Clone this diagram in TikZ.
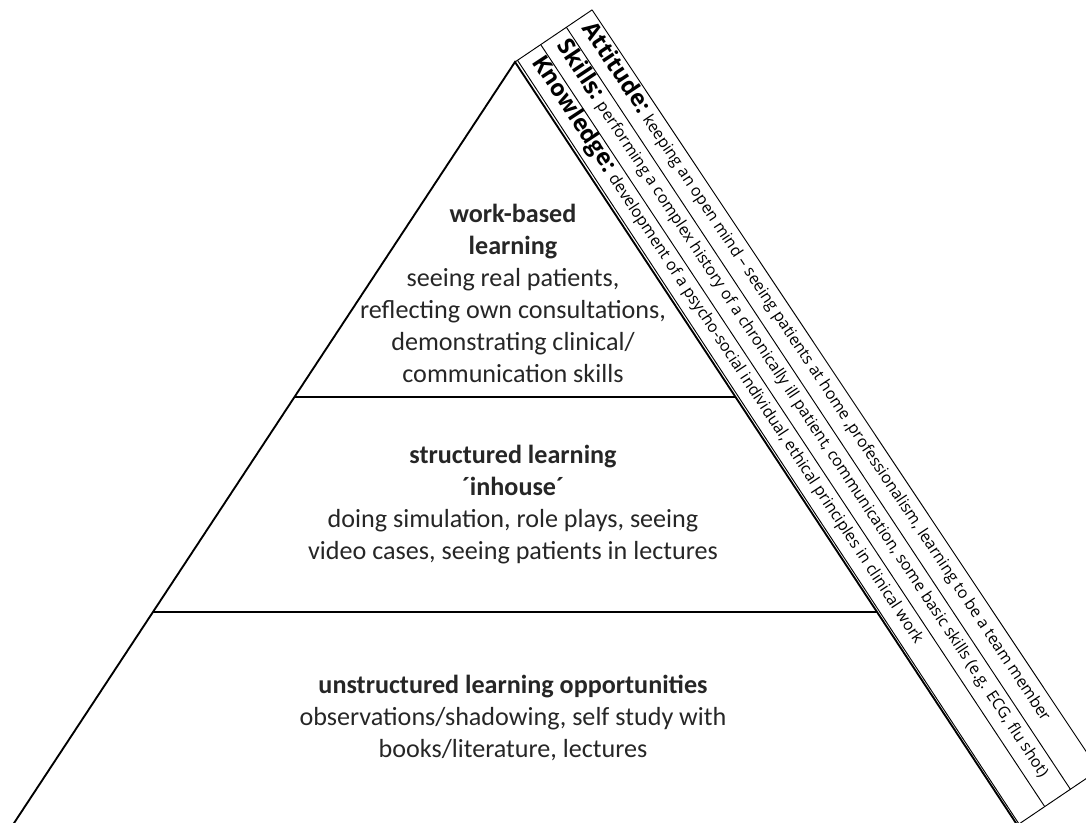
\documentclass[tikz,border=0pt]{standalone}
\usepackage{fontspec}
\setmainfont{Carlito}
\newfontfamily\stripfont{Open Sans}
\usetikzlibrary{calc}

\begin{document}
\begin{tikzpicture}[x=0.75pt,y=0.75pt,
  pyr/.style={line width=1.4pt,black},
  stripline/.style={line width=0.7pt,black},
  layertext/.style={align=center,text=black!85,font=\fontsize{19.6}{24}\selectfont},
  striptext/.style={sloped,anchor=mid west,inner sep=0pt,font=\stripfont\fontsize{12}{14}\selectfont}]

\useasboundingbox (0,0) rectangle (1086,823);
\clip (0,0) rectangle (1086,823);

% Pyramid outline
\coordinate (apex) at (515,761);
\coordinate (bl) at (7.5,-10);
\coordinate (br) at (1022.5,-10);
\draw[pyr] (bl) -- (apex) -- (br);

% Borders between the three layers
\draw[pyr] ($(apex)!.4345!(bl)$) -- ($(apex)!.4345!(br)$);
\draw[pyr] ($(apex)!.7134!(bl)$) -- ($(apex)!.7134!(br)$);

% Layer texts
\node[layertext] (workbased) at (513,530)
  {\textbf{work-based}\\\textbf{learning}\\seeing real patients,\\reflecting own consultations,\\demonstrating clinical/\\communication skills};
\node[layertext] (inhouse) at (513,318)
  {\textbf{structured learning}\\\textbf{´inhouse´}\\doing simulation, role plays, seeing\\video cases, seeing patients in lectures};
\node[layertext] (unstructured) at (513,105)
  {\textbf{unstructured learning opportunities}\\observations/shadowing, self study with\\books/literature, lectures};

% Strips along the right flank
\coordinate (s0) at (517.5,762.7); \coordinate (e0) at (1019,-1);
\coordinate (s1) at (540.7,778.4); \coordinate (e1) at (1044.7,16.4);
\coordinate (s2) at (566.4,795.7); \coordinate (e2) at (1070.4,33.7);
\coordinate (s3) at (592.1,813.1); \coordinate (e3) at (1098.6,52.8);
\foreach \i in {0,...,3}{
  \draw[stripline] (s\i) -- (e\i);
}
\draw[stripline] (apex) -- (s3);
\draw[stripline] (e0) -- (e3);

% Strip texts
\path ($(s0)!.5!(s1)$) -- ($(e0)!.5!(e1)$) node[striptext,pos=.01] (knowledge)
  {{\fontsize{17.5}{17.5}\selectfont\bfseries Knowledge:} development of a psycho-social individual, ethical principles in clinical work};
\path ($(s1)!.5!(s2)$) -- ($(e1)!.5!(e2)$) node[striptext,pos=.01] (skills)
  {{\fontsize{17.5}{17.5}\selectfont\bfseries Skills:} performing a complex history of a chronically ill patient, communication, some basic skills (e.g. ECG, flu shot)};
\path ($(s2)!.5!(s3)$) -- ($(e2)!.5!(e3)$) node[striptext,pos=.01] (attitude)
  {{\fontsize{17.5}{17.5}\selectfont\bfseries Attitude:} keeping an open mind – seeing patients at home ,professionalism, learning to be a team member};

\end{tikzpicture}
\end{document}
